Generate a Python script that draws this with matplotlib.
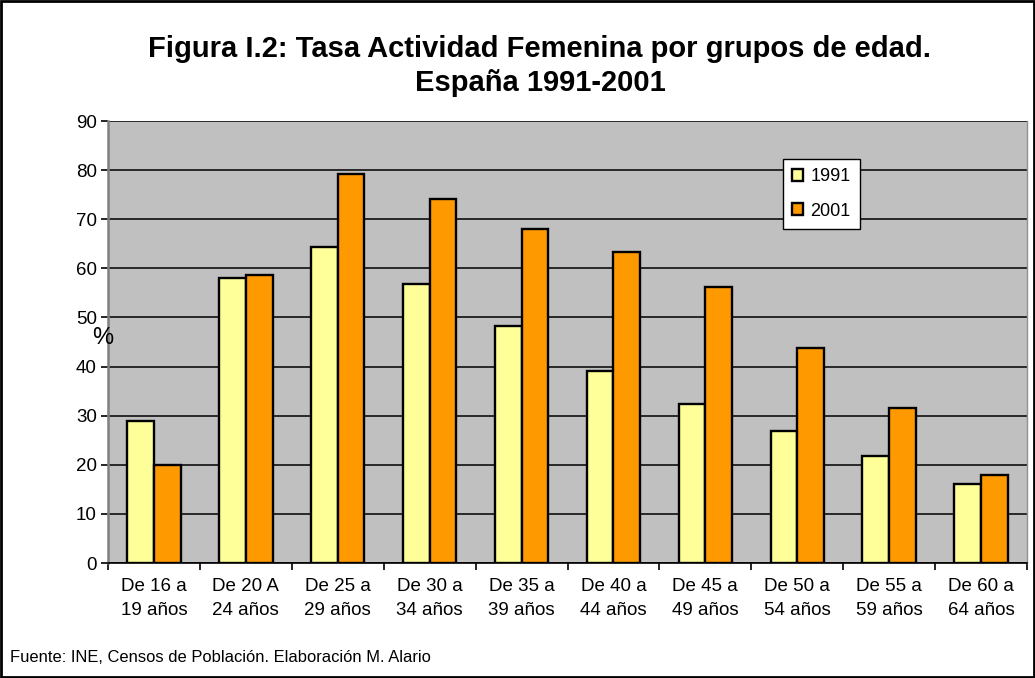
import numpy as np
import matplotlib
matplotlib.use("Agg")
import matplotlib.pyplot as plt
from matplotlib.patches import Rectangle

plt.rcParams['font.family'] = ['Liberation Sans', 'DejaVu Sans']

# Datos
grupos = ["De 16 a\n19 años", "De 20 A\n24 años", "De 25 a\n29 años", "De 30 a\n34 años",
          "De 35 a\n39 años", "De 40 a\n44 años", "De 45 a\n49 años", "De 50 a\n54 años",
          "De 55 a\n59 años", "De 60 a\n64 años"]
tasa_1991 = [29.0, 58.0, 64.4, 56.8, 48.2, 39.1, 32.3, 26.8, 21.8, 16.1]
tasa_2001 = [20.0, 58.6, 79.2, 74.1, 68.0, 63.3, 56.2, 43.8, 31.6, 17.9]
anios = ["1991", "2001"]
colores = ["#FFFF99", "#FF9900"]

fig = plt.figure(figsize=(10.35, 6.78), dpi=100)
ax = fig.add_axes([108 / 1035, 1 - 563 / 678, 919 / 1035, 442 / 678])
ax.set_facecolor("#C0C0C0")

x = np.arange(len(grupos))
ancho = 0.29
for i, (valores, color, etiqueta) in enumerate(zip([tasa_1991, tasa_2001], colores, anios)):
    ax.bar(x + (i - 0.5) * ancho, valores, width=ancho, color=color,
           edgecolor="black", linewidth=1.7, label=etiqueta, zorder=3)

ax.set_xlim(-0.5, len(grupos) - 0.5)
ax.set_ylim(0, 90)
ax.set_yticks(range(0, 91, 10))
ax.yaxis.grid(True, color="black", linewidth=1.1, zorder=0)
ax.set_axisbelow(True)

ax.set_xticks(x)
ax.set_xticklabels(grupos, fontsize=13.5, linespacing=1.55)
ax.set_xticks(np.arange(-0.5, len(grupos)), minor=True)
ax.tick_params(axis="x", which="major", length=0, pad=11)
ax.tick_params(axis="x", which="minor", length=5, width=1.2, direction="out")
ax.tick_params(axis="y", length=5, width=1.2, labelsize=13.5, pad=3)

ax.spines["top"].set_visible(False)
ax.spines["left"].set_color("#808080")
ax.spines["left"].set_linewidth(1.8)
ax.spines["right"].set_color("#909090")
ax.spines["right"].set_linewidth(1.0)
ax.spines["bottom"].set_color("black")
ax.spines["bottom"].set_linewidth(1.2)

ax.text(-0.006, 0.51, "%", transform=ax.transAxes, fontsize=17, ha="center", va="center")

leg = ax.legend(loc="upper left", bbox_to_anchor=(0.734, 0.913), fontsize=13,
                frameon=True, fancybox=False, edgecolor="black", framealpha=1,
                handlelength=0.65, handleheight=0.65, handletextpad=0.4,
                borderpad=0.5, labelspacing=0.95, borderaxespad=0)
leg.get_frame().set_linewidth(1.0)

fig.text(540 / 1035, 1 - 66 / 678, "Figura I.2: Tasa Actividad Femenina por grupos de edad.\nEspaña 1991-2001",
         ha="center", va="center", fontsize=21, fontweight="bold", linespacing=1.25)
fig.text(10 / 1035, 1 - 657 / 678, "Fuente: INE, Censos de Población. Elaboración M. Alario",
         ha="left", va="center", fontsize=11.9)

fig.patches.append(Rectangle((0.001, 0.0015), 0.998, 0.997, transform=fig.transFigure,
                             fill=False, edgecolor="black", linewidth=2))

fig.savefig("out.png", dpi=100)
